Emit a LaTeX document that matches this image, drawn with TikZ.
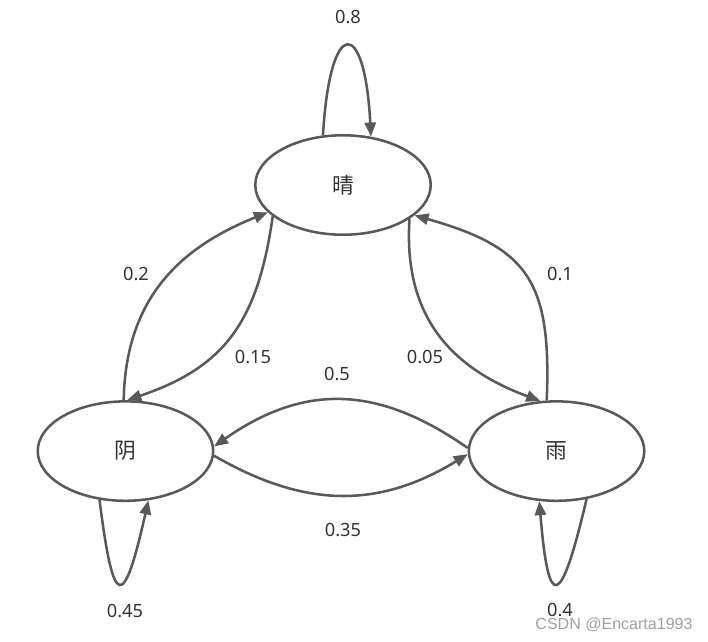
\documentclass[tikz,border=0pt]{standalone}
\usepackage{fontspec}
\setmainfont{Noto Sans}
\newfontfamily\cjk{Noto Sans CJK SC}
\newfontfamily\wmfont{Liberation Sans}
\usetikzlibrary{arrows.meta,positioning,shapes.geometric}
\definecolor{linegray}{HTML}{595959}
\definecolor{textgray}{HTML}{333333}
\tikzset{
  state/.style={ellipse, draw=linegray, line width=1.8pt, minimum width=4.385cm, minimum height=2.485cm, inner sep=0pt, font=\cjk\fontsize{15.5}{18}\selectfont, text=textgray},
  trans/.style={draw=linegray, line width=1.8pt, -{Triangle[length=10pt,width=8pt]}},
  prob/.style={font=\fontsize{13}{15}\selectfont, text=textgray, inner sep=0pt},
}

\begin{document}
\begin{tikzpicture}[x=0.025cm, y=-0.025cm]
  \useasboundingbox (0,0) rectangle (708,641);
  \node [state] (sun) at (343,185) {晴};
  \node [state, on grid, below left=6.65cm and 5.4375cm of sun] (cloud) {阴};
  \node [state, on grid, right=10.775cm of cloud] (rain) {雨};

  \draw [trans] (sun.112) .. controls +(7,-120) and +(-6,-120) .. (sun.60);
  \draw [trans] (cloud.92) .. controls +(2,-100) and +(-90,36) .. (sun.200);
  \draw [trans] (sun.204) .. controls +(-15,105) and +(98,-33) .. (cloud.88);
  \draw [trans] (sun.333) .. controls +(-6,92) and +(-95,-35) .. (rain.108);
  \draw [trans] (rain.101) .. controls +(5,-120) and +(113,32) .. (sun.337);
  \draw [trans] (rain.178) .. controls +(-90,-63) and +(90,-63) .. (cloud.3);
  \draw [trans] (cloud.-3) .. controls +(90,52) and +(-90,55) .. (rain.182);
  \draw [trans] (cloud.242) .. controls +(14,111) and +(-25,111) .. (cloud.295);
  \draw [trans] (rain.302) .. controls +(-26,111) and +(9,111) .. (rain.251);

  \node [prob] (pss) at (348,17) {0.8};
  \node [prob] (pcs) at (136,274) {0.2};
  \node [prob] (psc) at (253,357) {0.15};
  \node [prob] (psr) at (425,357) {0.05};
  \node [prob] (prs) at (560,274) {0.1};
  \node [prob] (prc) at (337,374) {0.5};
  \node [prob] (pcr) at (343,530) {0.35};
  \node [prob] (pcc) at (125,611) {0.45};
  \node [prob] (prr) at (560,610) {0.4};
  \node [font=\wmfont\fontsize{11.4}{13}\selectfont, text=gray!75, inner sep=0pt] (mark) at (614,625) {CSDN @Encarta1993};
\end{tikzpicture}
\end{document}
